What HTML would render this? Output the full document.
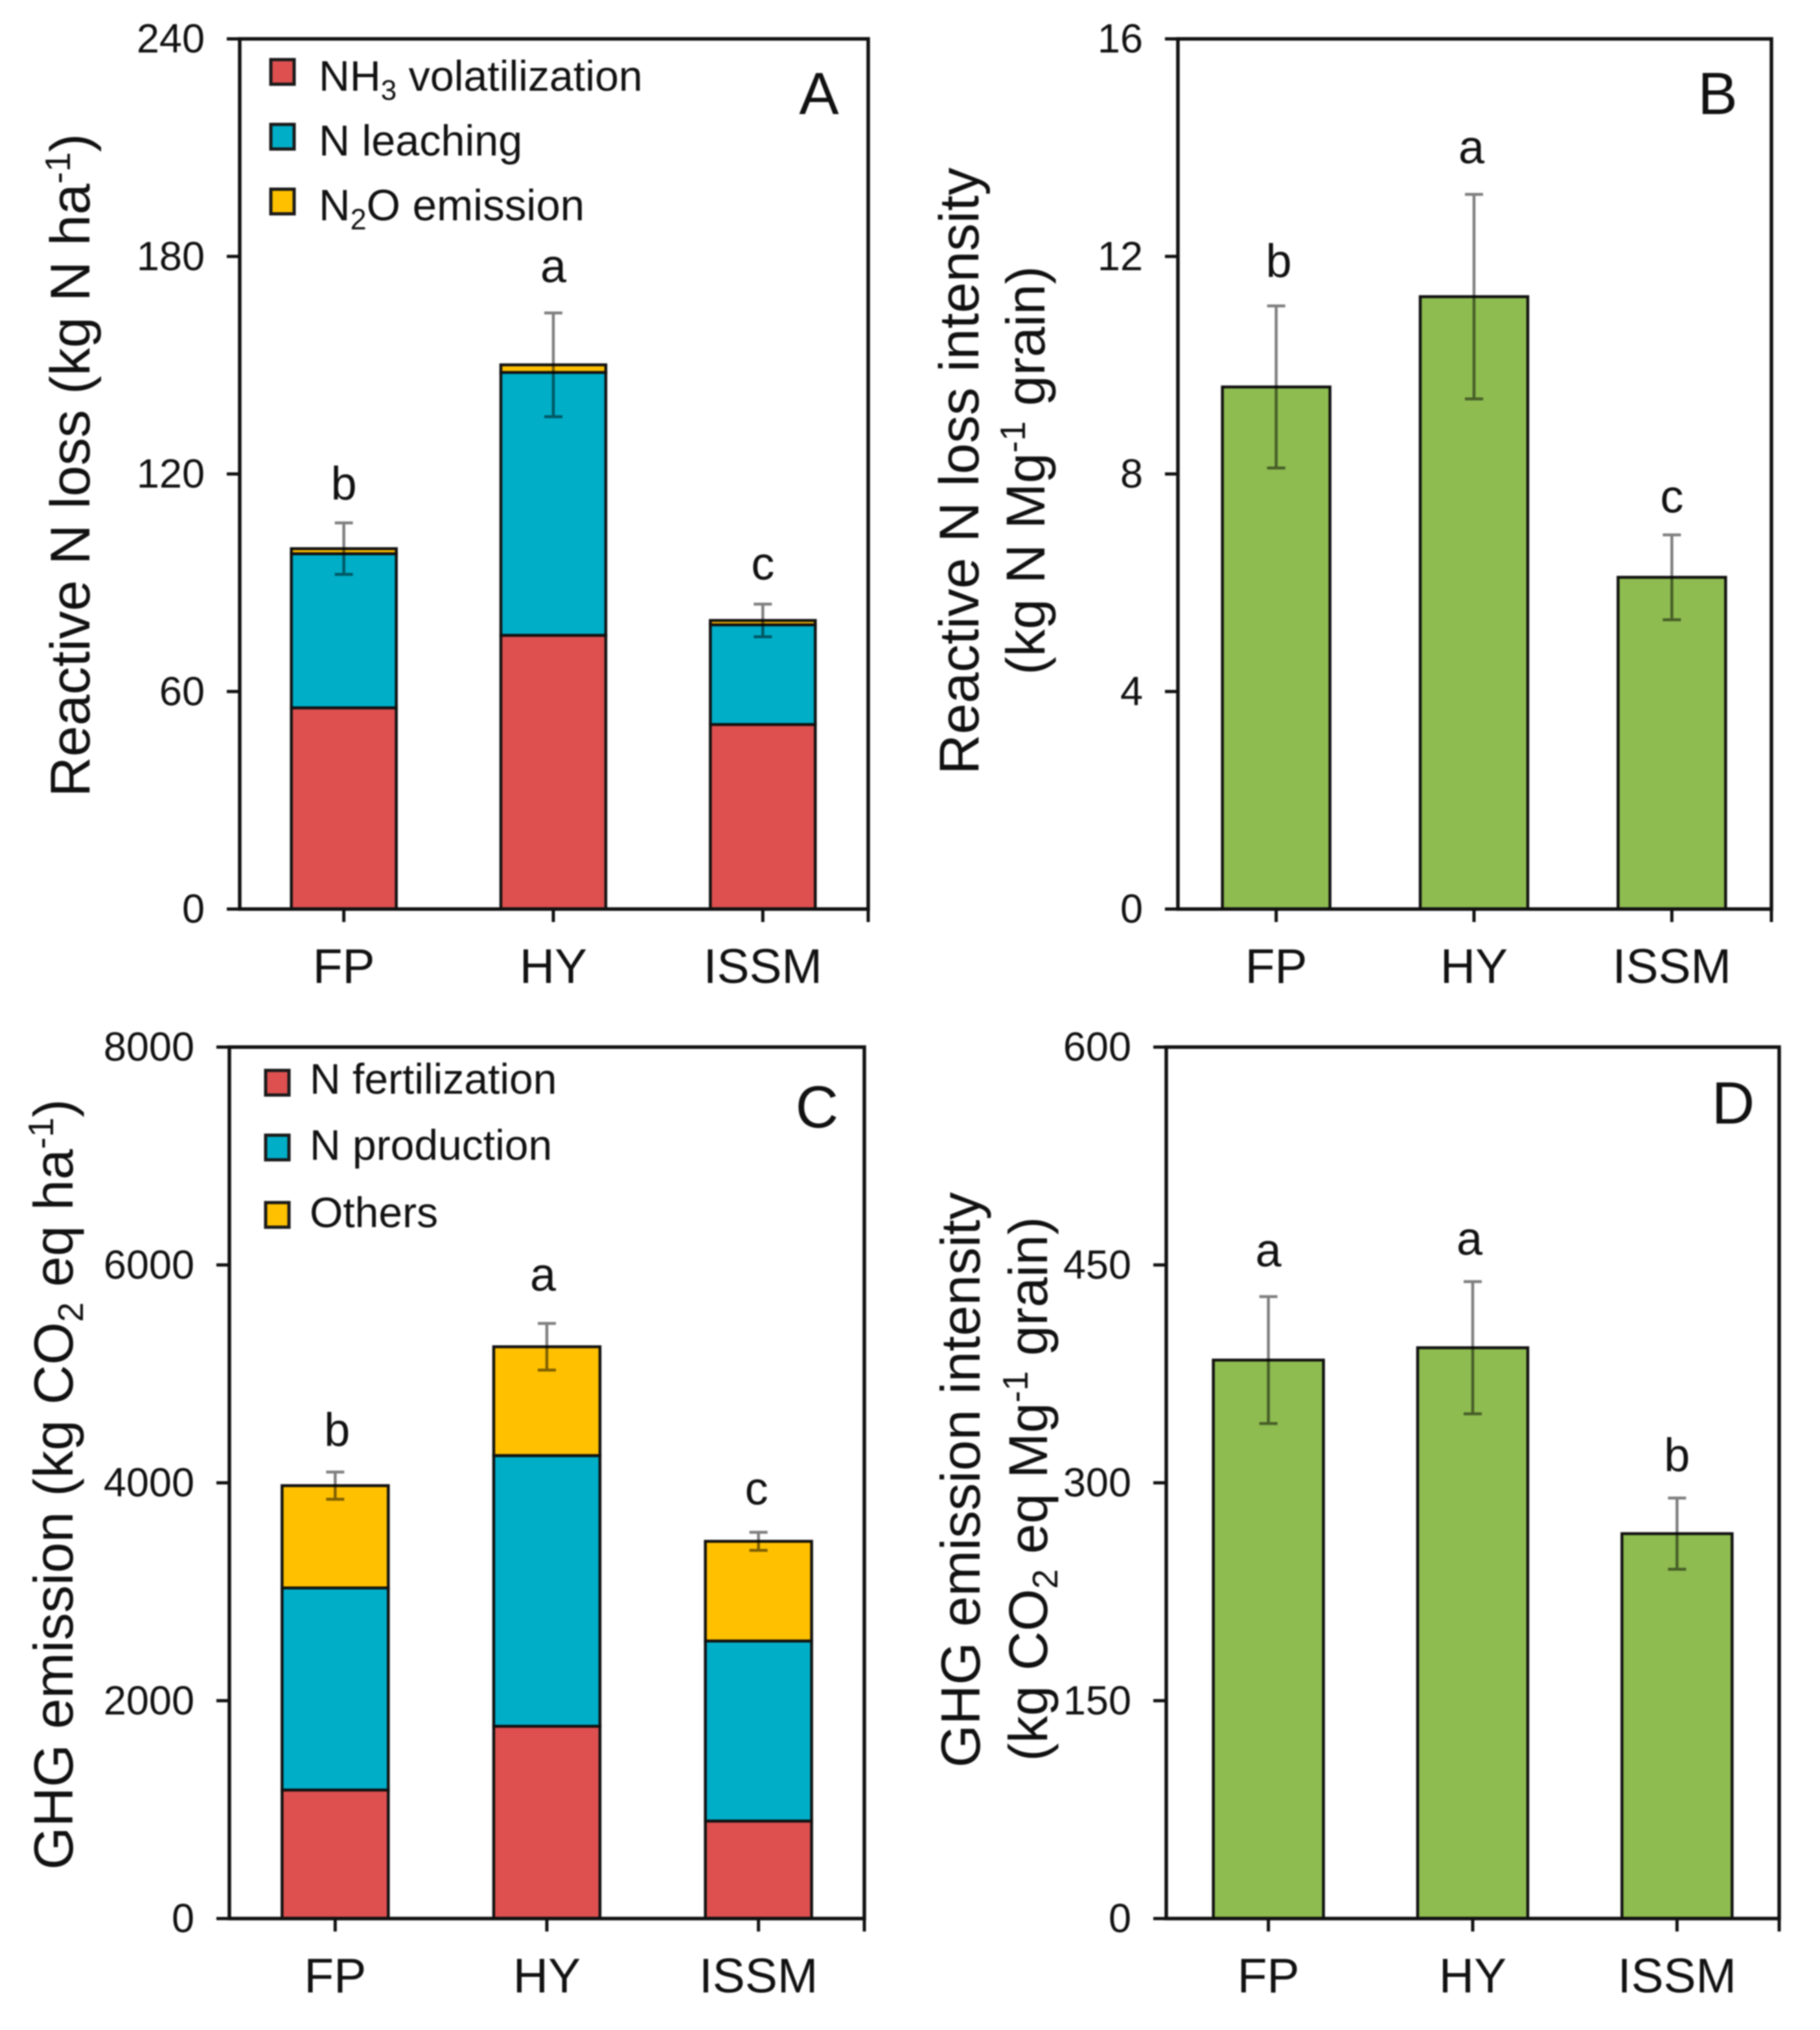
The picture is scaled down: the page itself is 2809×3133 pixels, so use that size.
<!DOCTYPE html>
<html lang="en">
<head>
<meta charset="utf-8">
<title>Reactive N loss and GHG emission</title>
<style>
html,body{margin:0;padding:0;background:#fff;width:2809px;height:3133px;overflow:hidden}
svg{display:block;filter:blur(1.1px)}
text{font-family:"Liberation Sans",sans-serif;fill:#111}
</style>
</head>
<body>
<svg id="chart" xmlns="http://www.w3.org/2000/svg" width="2809" height="3133" viewBox="0 0 2809 3133">
<rect x="0" y="0" width="2809" height="3133" fill="#fff"/>

<text transform="translate(138,718) rotate(-90)" text-anchor="middle" font-size="86">Reactive N loss (kg N ha<tspan dy="-30" font-size="55">-1</tspan><tspan dy="30">)</tspan></text>
<text transform="translate(1510,727) rotate(-90)" text-anchor="middle" font-size="86">Reactive N loss intensity</text>
<text transform="translate(1612,726) rotate(-90)" text-anchor="middle" font-size="84.5">(kg N Mg<tspan dy="-30" font-size="55">-1</tspan><tspan dy="30"> grain)</tspan></text>
<text transform="translate(112,2291) rotate(-90)" text-anchor="middle" font-size="85">GHG emission (kg CO<tspan dy="16" font-size="55">2</tspan><tspan dy="-16"> eq ha</tspan><tspan dy="-30" font-size="55">-1</tspan><tspan dy="30">)</tspan></text>
<text transform="translate(1512,2284) rotate(-90)" text-anchor="middle" font-size="85">GHG emission intensity</text>
<text transform="translate(1616,2298) rotate(-90)" text-anchor="middle" font-size="84">(kg CO<tspan dy="16" font-size="55">2</tspan><tspan dy="-16"> eq Mg</tspan><tspan dy="-30" font-size="55">-1</tspan><tspan dy="30"> grain)</tspan></text>

<text x="1264" y="176" text-anchor="middle" font-size="92">A</text>
<text x="2651" y="176" text-anchor="middle" font-size="92">B</text>
<text x="1261" y="1740" text-anchor="middle" font-size="92">C</text>
<text x="2675" y="1734" text-anchor="middle" font-size="92">D</text>

<g>
  <rect x="418" y="92" width="36" height="38" fill="#DE5050" stroke="#1a1a1a" stroke-width="5"/>
  <text x="492" y="140" font-size="66.3">NH<tspan dy="14" font-size="44">3</tspan><tspan dy="-14"> volatilization</tspan></text>
  <rect x="418" y="192" width="36" height="38" fill="#00AEC8" stroke="#1a1a1a" stroke-width="5"/>
  <text x="492" y="240" font-size="66.5">N leaching</text>
  <rect x="418" y="292" width="36" height="38" fill="#FFC000" stroke="#1a1a1a" stroke-width="5"/>
  <text x="492" y="340" font-size="67.3">N<tspan dy="14" font-size="45">2</tspan><tspan dy="-14">O emission</tspan></text>
</g>
<g>
  <rect x="410" y="1652" width="36" height="38" fill="#DE5050" stroke="#1a1a1a" stroke-width="5"/>
  <text x="478" y="1688" font-size="66">N fertilization</text>
  <rect x="410" y="1752" width="36" height="38" fill="#00AEC8" stroke="#1a1a1a" stroke-width="5"/>
  <text x="478" y="1790" font-size="66">N production</text>
  <rect x="410" y="1856" width="36" height="38" fill="#FFC000" stroke="#1a1a1a" stroke-width="5"/>
  <text x="478" y="1894" font-size="66">Others</text>
</g>
</svg>
<script>
const categories = ['FP', 'HY', 'ISSM'];

const ticksA = [0, 60, 120, 180, 240];
const nh3 = [55.5, 75.5, 50.9];
const leaching = [42.5, 72.5, 27.5];
const n2o = [1.4, 2.1, 1.2];
const errA = [7.1, 14.3, 4.5];
const lettersA = ['b', 'a', 'c'];
const letterLevelA = [112.9, 172.9, 90.9];

const ticksB = [0, 4, 8, 12, 16];
const intensityB = [9.6, 11.26, 6.1];
const errB = [1.49, 1.88, 0.78];
const lettersB = ['b', 'a', 'c'];
const letterLevelB = [11.62, 13.71, 7.29];

const ticksC = [0, 2000, 4000, 6000, 8000];
const fertilization = [1180, 1765, 895];
const production = [1855, 2485, 1653];
const others = [939, 999, 915];
const errC = [125, 214, 83];
const lettersC = ['b', 'a', 'c'];
const letterLevelC = [4340, 5765, 3800];

const ticksD = [0, 150, 300, 450, 600];
const intensityD = [384.5, 393, 265];
const errD = [43.7, 45.5, 24.5];
const lettersD = ['a', 'a', 'b'];
const letterLevelD = [449, 457, 308];

const NS = 'http://www.w3.org/2000/svg';
const root = document.getElementById('chart');
const RED = '#DE5050', TEAL = '#00AEC8', YELLOW = '#FFC000', GREEN = '#8EBC50';

function drawPanel(p) {
  const id = p.id;
  const yMax = p.ticks[p.ticks.length - 1];
  const y = function (v) { return p.y0 - (v / yMax) * (p.y0 - p.yTop); };
  const band = (p.x1 - p.x0) / categories.length;
  const x = function (i) { return p.x0 + (i + 0.5) * band + p.shift; };

  const g = document.createElementNS(NS, 'g');
  
  
  root.appendChild(g);

  categories.forEach(function (cat, i) {
    let base = 0;
    let total = 0;
    p.series.forEach(function (s) {
      const v = s.values[i];
      const r = document.createElementNS(NS, 'rect');
      
      
      r.setAttribute('x', x(i) - p.barW / 2);
      r.setAttribute('y', y(base + v));
      r.setAttribute('width', p.barW);
      r.setAttribute('height', y(base) - y(base + v));
      r.setAttribute('fill', s.color);
      r.setAttribute('stroke', '#111');
      r.setAttribute('stroke-width', '4.5');
      g.appendChild(r);
      base += v;
    });
    total = base;

    const err = document.createElementNS(NS, 'path');
    
    
    const hi = y(total + p.err[i]);
    const lo = y(total - p.err[i]);
    const cx = x(i);
    err.setAttribute('d', 'M' + (cx - 14) + ' ' + hi + 'H' + (cx + 14) + 'M' + cx + ' ' + hi + 'V' + lo + 'M' + (cx - 14) + ' ' + lo + 'H' + (cx + 14));
    err.setAttribute('fill', 'none');
    err.setAttribute('stroke', 'rgba(0,0,0,0.5)');
    err.setAttribute('stroke-width', '4.5');
    g.appendChild(err);

    const sig = document.createElementNS(NS, 'text');
    
    
    sig.setAttribute('x', cx + p.letterDx[i]);
    sig.setAttribute('y', y(p.letterLevel[i]));
    sig.setAttribute('text-anchor', 'middle');
    sig.setAttribute('font-size', '72');
    sig.textContent = p.letters[i];
    g.appendChild(sig);

    const tick = document.createElementNS(NS, 'line');
    
    
    tick.setAttribute('x1', cx);
    tick.setAttribute('x2', cx);
    tick.setAttribute('y1', p.y0);
    tick.setAttribute('y2', p.y0 + 20);
    tick.setAttribute('stroke', '#111');
    tick.setAttribute('stroke-width', '5');
    g.appendChild(tick);

    const lab = document.createElementNS(NS, 'text');
    
    
    lab.setAttribute('x', cx);
    lab.setAttribute('y', p.y0 + 114);
    lab.setAttribute('text-anchor', 'middle');
    lab.setAttribute('font-size', '75');
    lab.textContent = cat;
    g.appendChild(lab);
  });

  const frame = document.createElementNS(NS, 'rect');
  
  
  frame.setAttribute('x', p.x0);
  frame.setAttribute('y', p.yTop);
  frame.setAttribute('width', p.x1 - p.x0);
  frame.setAttribute('height', p.y0 - p.yTop);
  frame.setAttribute('fill', 'none');
  frame.setAttribute('stroke', '#111');
  frame.setAttribute('stroke-width', '5.5');
  g.appendChild(frame);

  const cornerTick = document.createElementNS(NS, 'line');
  
  
  cornerTick.setAttribute('x1', p.x1);
  cornerTick.setAttribute('x2', p.x1);
  cornerTick.setAttribute('y1', p.y0);
  cornerTick.setAttribute('y2', p.y0 + 20);
  cornerTick.setAttribute('stroke', '#111');
  cornerTick.setAttribute('stroke-width', '5');
  g.appendChild(cornerTick);

  p.ticks.forEach(function (t) {
    const tick = document.createElementNS(NS, 'line');
    
    
    tick.setAttribute('x1', p.x0 - 20);
    tick.setAttribute('x2', p.x0);
    tick.setAttribute('y1', y(t));
    tick.setAttribute('y2', y(t));
    tick.setAttribute('stroke', '#111');
    tick.setAttribute('stroke-width', '5');
    g.appendChild(tick);

    const lab = document.createElementNS(NS, 'text');
    
    
    lab.setAttribute('x', p.x0 - 54);
    lab.setAttribute('y', y(t) + 21);
    lab.setAttribute('text-anchor', 'end');
    lab.setAttribute('font-size', '63');
    lab.setAttribute('fill', '#222');
    lab.textContent = String(t);
    g.appendChild(lab);
  });
}

drawPanel({ id: 'a', x0: 370, x1: 1340, yTop: 60, y0: 1403, shift: -1, barW: 162, ticks: ticksA,
  series: [
    { name: 'nh3', values: nh3, color: RED },
    { name: 'leaching', values: leaching, color: TEAL },
    { name: 'n2o', values: n2o, color: YELLOW }
  ], err: errA, letters: lettersA, letterLevel: letterLevelA, letterDx: [0, 0, 0] });

drawPanel({ id: 'b', x0: 1818, x1: 2734, yTop: 60, y0: 1403, shift: -1, barW: 166, ticks: ticksB,
  series: [{ name: 'intensity', values: intensityB, color: GREEN }],
  err: errB, letters: lettersB, letterLevel: letterLevelB, letterDx: [4, -4, 0] });

drawPanel({ id: 'c', x0: 354, x1: 1334, yTop: 1616, y0: 2961, shift: 0, barW: 164, ticks: ticksC,
  series: [
    { name: 'fertilization', values: fertilization, color: RED },
    { name: 'production', values: production, color: TEAL },
    { name: 'others', values: others, color: YELLOW }
  ], err: errC, letters: lettersC, letterLevel: letterLevelC, letterDx: [3, -6, -3] });

drawPanel({ id: 'd', x0: 1800, x1: 2746, yTop: 1616, y0: 2961, shift: 0, barW: 170, ticks: ticksD,
  series: [{ name: 'intensity', values: intensityD, color: GREEN }],
  err: errD, letters: lettersD, letterLevel: letterLevelD, letterDx: [0, -5, 0] });
</script>
</body>
</html>
